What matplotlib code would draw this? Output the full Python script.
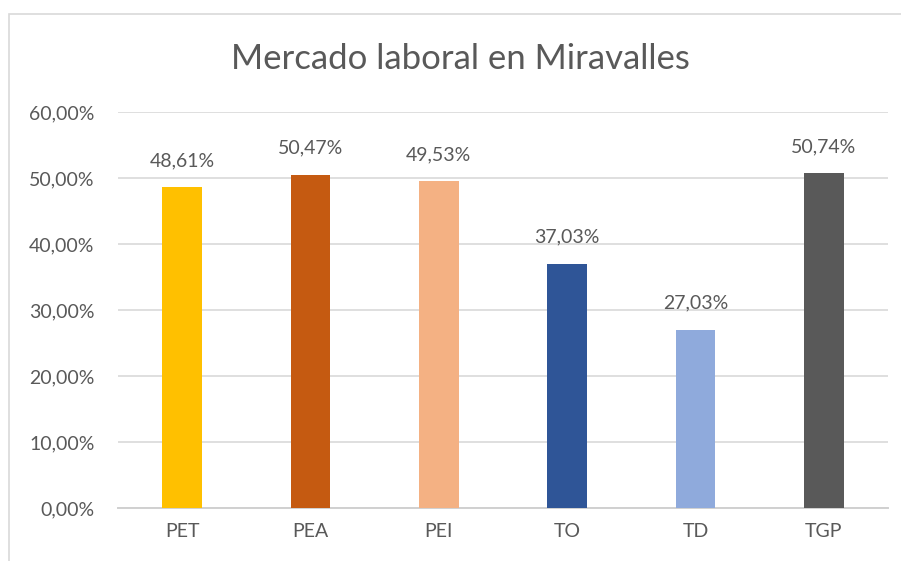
import matplotlib.pyplot as plt
from matplotlib.patches import Rectangle
from matplotlib.ticker import FuncFormatter

categorias = ["PET", "PEA", "PEI", "TO", "TD", "TGP"]
valores = [48.61, 50.47, 49.53, 37.03, 27.03, 50.74]
colores = ["#FFC000", "#C55A11", "#F4B183", "#2F5597", "#8FAADC", "#595959"]
marcas_y = [0, 10, 20, 30, 40, 50, 60]

plt.rcParams["font.family"] = ["Lato", "DejaVu Sans"]
gris = "#595959"

fig = plt.figure(figsize=(9.01, 5.61), dpi=100)
fig.patches.append(Rectangle((9 / 901, -0.05), 1.0, 1 - 14 / 561 + 0.05,
                             transform=fig.transFigure, fill=False,
                             edgecolor="#D9D9D9", linewidth=1.2))

ax = fig.add_axes([0.131, 0.0945, 0.8546, 0.706])
x = range(len(categorias))
ax.bar(x, valores, width=0.31, color=colores, zorder=3)

for i, v in enumerate(valores):
    ax.annotate(f"{v:.2f}%".replace(".", ","), (i, v), xytext=(0, 13),
                textcoords="offset points", ha="center", va="bottom",
                fontsize=14, color=gris)

ax.set_xlim(-0.5, len(categorias) - 0.5)
ax.set_ylim(0, 60)
ax.set_yticks(marcas_y)
ax.yaxis.set_major_formatter(FuncFormatter(lambda v, p: f"{v:.2f}%".replace(".", ",")))
ax.set_xticks(list(x))
ax.set_xticklabels(categorias)
ax.tick_params(axis="both", length=0, labelsize=14, labelcolor=gris)
ax.tick_params(axis="y", pad=17)
ax.tick_params(axis="x", pad=11)
ax.grid(axis="y", color="#D9D9D9", linewidth=1.2, zorder=0)
for s in ["top", "right", "left"]:
    ax.spines[s].set_visible(False)
ax.spines["bottom"].set_color("#D0D0D0")
ax.spines["bottom"].set_linewidth(1.4)

fig.text(0.511, 0.895, "Mercado laboral en Miravalles", ha="center", va="center",
         fontsize=25, color=gris)

plt.savefig("out.png", dpi=100)
